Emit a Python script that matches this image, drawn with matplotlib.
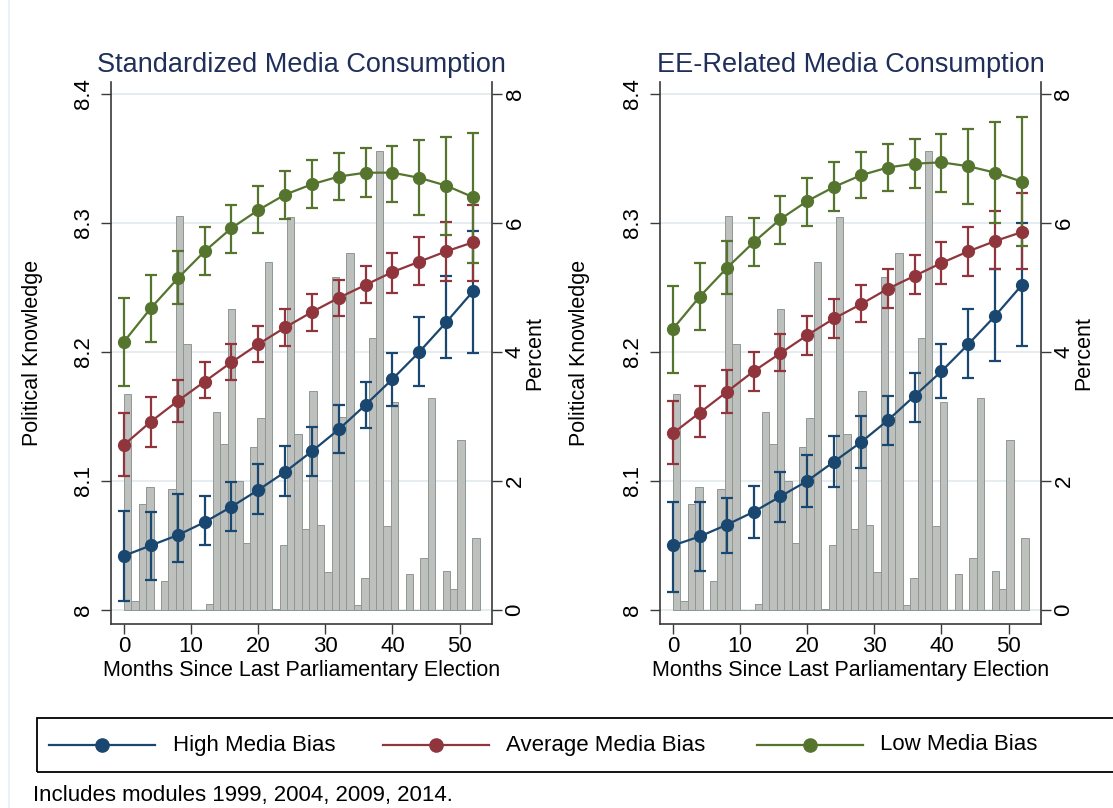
import matplotlib
matplotlib.use('Agg')
import matplotlib.pyplot as plt
import numpy as np
from matplotlib.lines import Line2D
from matplotlib.patches import Rectangle

plt.rcParams['font.family'] = ['Liberation Sans', 'DejaVu Sans']

# ---------------- data ----------------
months = [0, 4, 8, 12, 16, 20, 24, 28, 32, 36, 40, 44, 48, 52]

# histogram of interview month (percent), 48 bins over [0, 53]
hist_start, hist_end = 0, 53
hist_pct = [3.35, 0.14, 1.64, 1.91, 0.00, 0.45, 1.88, 6.11, 4.13, 0.00,
            0.00, 0.09, 3.07, 2.57, 4.67, 2.00, 1.04, 2.52, 2.98, 5.40,
            0.02, 1.01, 6.09, 2.73, 1.25, 3.39, 1.32, 0.59, 5.17, 3.00,
            5.54, 0.08, 0.50, 4.21, 7.12, 1.30, 3.23, 0.00, 0.56, 0.00,
            0.81, 3.29, 0.00, 0.60, 0.32, 2.64, 0.00, 1.11]

# Panel 1: Standardized Media Consumption
std_high = [8.042, 8.050, 8.058, 8.068, 8.080, 8.093, 8.107, 8.123, 8.140, 8.159, 8.179, 8.200, 8.223, 8.247]
std_high_lo = [8.007, 8.023, 8.037, 8.050, 8.061, 8.074, 8.088, 8.104, 8.122, 8.141, 8.158, 8.174, 8.195, 8.199]
std_high_hi = [8.077, 8.076, 8.090, 8.088, 8.099, 8.113, 8.127, 8.142, 8.159, 8.177, 8.199, 8.227, 8.259, 8.294]
std_avg = [8.128, 8.146, 8.162, 8.177, 8.192, 8.206, 8.219, 8.231, 8.242, 8.252, 8.262, 8.270, 8.278, 8.285]
std_avg_lo = [8.104, 8.126, 8.146, 8.164, 8.178, 8.192, 8.205, 8.216, 8.228, 8.238, 8.246, 8.252, 8.255, 8.255]
std_avg_hi = [8.153, 8.165, 8.178, 8.192, 8.206, 8.220, 8.233, 8.245, 8.256, 8.267, 8.277, 8.289, 8.301, 8.314]
std_low = [8.208, 8.234, 8.257, 8.278, 8.296, 8.310, 8.322, 8.330, 8.336, 8.339, 8.339, 8.335, 8.329, 8.320]
std_low_lo = [8.174, 8.208, 8.237, 8.260, 8.277, 8.292, 8.303, 8.312, 8.318, 8.320, 8.316, 8.306, 8.291, 8.269]
std_low_hi = [8.242, 8.260, 8.278, 8.297, 8.314, 8.329, 8.340, 8.349, 8.354, 8.358, 8.360, 8.364, 8.367, 8.370]

# Panel 2: EE-Related Media Consumption
ee_high = [8.050, 8.057, 8.066, 8.076, 8.088, 8.100, 8.115, 8.130, 8.147, 8.166, 8.185, 8.206, 8.228, 8.252]
ee_high_lo = [8.014, 8.030, 8.044, 8.056, 8.068, 8.080, 8.095, 8.110, 8.128, 8.146, 8.164, 8.180, 8.193, 8.205]
ee_high_hi = [8.084, 8.084, 8.087, 8.096, 8.107, 8.120, 8.135, 8.150, 8.166, 8.184, 8.206, 8.233, 8.264, 8.300]
ee_avg = [8.137, 8.153, 8.169, 8.185, 8.199, 8.213, 8.226, 8.237, 8.249, 8.259, 8.269, 8.278, 8.286, 8.293]
ee_avg_lo = [8.113, 8.134, 8.153, 8.170, 8.185, 8.198, 8.211, 8.223, 8.234, 8.245, 8.253, 8.259, 8.264, 8.264]
ee_avg_hi = [8.162, 8.174, 8.186, 8.200, 8.214, 8.228, 8.241, 8.252, 8.264, 8.275, 8.285, 8.297, 8.309, 8.323]
ee_low = [8.218, 8.243, 8.265, 8.285, 8.303, 8.317, 8.328, 8.337, 8.343, 8.346, 8.347, 8.344, 8.339, 8.332]
ee_low_lo = [8.184, 8.217, 8.245, 8.267, 8.284, 8.298, 8.309, 8.319, 8.325, 8.327, 8.324, 8.315, 8.300, 8.282]
ee_low_hi = [8.251, 8.269, 8.286, 8.304, 8.321, 8.335, 8.347, 8.355, 8.361, 8.365, 8.369, 8.373, 8.378, 8.382]

titles = ['Standardized Media Consumption', 'EE-Related Media Consumption']
series_names = ['High Media Bias', 'Average Media Bias', 'Low Media Bias']
colors = ['#1a476f', '#90353b', '#55752f']
xticks = [0, 10, 20, 30, 40, 50]
yticks_left = [8, 8.1, 8.2, 8.3, 8.4]
yticks_left_labels = ['8', '8.1', '8.2', '8.3', '8.4']
yticks_right = [0, 2, 4, 6, 8]
xlabel = 'Months Since Last Parliamentary Election'
ylabel_left = 'Political Knowledge'
ylabel_right = 'Percent'
footnote = 'Includes modules 1999, 2004, 2009, 2014.'

panels = [
    [(std_high, std_high_lo, std_high_hi), (std_avg, std_avg_lo, std_avg_hi), (std_low, std_low_lo, std_low_hi)],
    [(ee_high, ee_high_lo, ee_high_hi), (ee_avg, ee_avg_lo, ee_avg_hi), (ee_low, ee_low_lo, ee_low_hi)],
]

# ---------------- figure ----------------
W, H = 1113, 808
fig = plt.figure(figsize=(W / 100, H / 100), dpi=100)
fig.patch.set_facecolor('white')

def frac_x(px):
    return px / W

def frac_y(py):
    return 1 - py / H

TXT = 16
axes_left_px = [111, 660]
ax_w_px = 381
ax_top_px, ax_bot_px = 82, 624

edges = np.linspace(hist_start, hist_end, len(hist_pct) + 1)
binw = edges[1] - edges[0]

for i, left_px in enumerate(axes_left_px):
    rect = [frac_x(left_px), frac_y(ax_bot_px), ax_w_px / W, (ax_bot_px - ax_top_px) / H]
    ax = fig.add_axes(rect)
    ax2 = ax.twinx()
    ax.set_zorder(ax2.get_zorder() + 1)
    ax.patch.set_visible(False)

    # histogram bars on the percent axis
    ax2.bar(edges[:-1], hist_pct, width=binw, align='edge', color='#bdc0bd',
            edgecolor='#8d9895', linewidth=0.7, zorder=2)
    ax2.set_ylim(-0.217, 8.186)
    ax2.set_yticks(yticks_right)
    ax2.set_yticklabels([str(v) for v in yticks_right])
    ax2.yaxis.grid(True, color='#e3ecef', linewidth=1.3, zorder=0)
    ax2.set_axisbelow(True)

    # lines with CIs
    for (vals, lo, hi), c in zip(panels[i], colors):
        vals = np.array(vals); lo = np.array(lo); hi = np.array(hi)
        ax.errorbar(months, vals, yerr=[vals - lo, hi - vals], fmt='none',
                    ecolor=c, elinewidth=1.6, capsize=4.5, capthick=1.6, zorder=3)
        ax.plot(months, vals, '-o', color=c, lw=1.6, ms=8.5, zorder=4)

    ax.set_xlim(-1.94, 54.83)
    ax.set_ylim(7.9891, 8.4093)
    ax.set_xticks(xticks)
    ax.set_xticklabels([str(v) for v in xticks])
    ax.set_yticks(yticks_left)
    ax.set_yticklabels(yticks_left_labels)

    for a in (ax, ax2):
        a.spines['top'].set_visible(False)
        for s in a.spines.values():
            s.set_color('#3a3a3a')
            s.set_linewidth(1.2)
    ax.spines['right'].set_visible(False)
    ax2.spines['left'].set_visible(False)
    ax2.spines['bottom'].set_visible(False)

    ax.tick_params(axis='y', direction='out', length=7, width=1, color='#3a3a3a',
                   labelsize=TXT, labelrotation=90, pad=5)
    for lab in ax.get_yticklabels():
        lab.set_va('center')
    ax.tick_params(axis='x', direction='out', length=7, width=1, color='#3a3a3a',
                   labelsize=TXT, pad=2)
    ax2.tick_params(axis='y', direction='out', length=7, width=1, color='#3a3a3a',
                    labelsize=TXT, labelrotation=90, pad=2)
    for lab in ax2.get_yticklabels():
        lab.set_va('center')

    ax.set_title(titles[i], fontsize=19.5, color='#1f2f5a', pad=7)
    ax.set_xlabel(xlabel, fontsize=15.5, labelpad=2)
    ax.set_ylabel(ylabel_left, fontsize=15.5)
    ax.yaxis.set_label_coords(-0.205 if i == 0 else -0.21, 0.5)
    ax.yaxis.label.set_va('center')
    ax2.set_ylabel(ylabel_right, fontsize=15.5, rotation=90)
    ax2.yaxis.set_label_coords(1.113, 0.5)
    ax2.yaxis.label.set_va('center')

# faint outer graph-region edge
fig.add_artist(Line2D([frac_x(8.5), frac_x(8.5)], [0, 1], color='#e6eff3', lw=1.2))

# ---------------- legend ----------------
leg_top, leg_bot = 718, 772
fig.add_artist(Rectangle((frac_x(37), frac_y(leg_bot)), frac_x(1140 - 37),
                         (leg_bot - leg_top) / H, fill=False, edgecolor='black', lw=1.3))
yc = frac_y((leg_top + leg_bot) / 2)
entries_px = [(49, 155, 173), (383, 489, 506), (757, 863, 880)]
for (x0, x1, xt), name, c in zip(entries_px, series_names, colors):
    fig.add_artist(Line2D([frac_x(x0), frac_x(x1)], [yc, yc], color=c, lw=1.6))
    fig.add_artist(Line2D([frac_x((x0 + x1) / 2)], [yc], marker='o', color=c, ms=9.5))
    fig.text(frac_x(xt), yc, name, fontsize=TXT, va='center', ha='left')

fig.text(frac_x(33), frac_y(795), footnote, fontsize=TXT, va='center', ha='left')

fig.savefig('out.png', dpi=100, facecolor='white')
